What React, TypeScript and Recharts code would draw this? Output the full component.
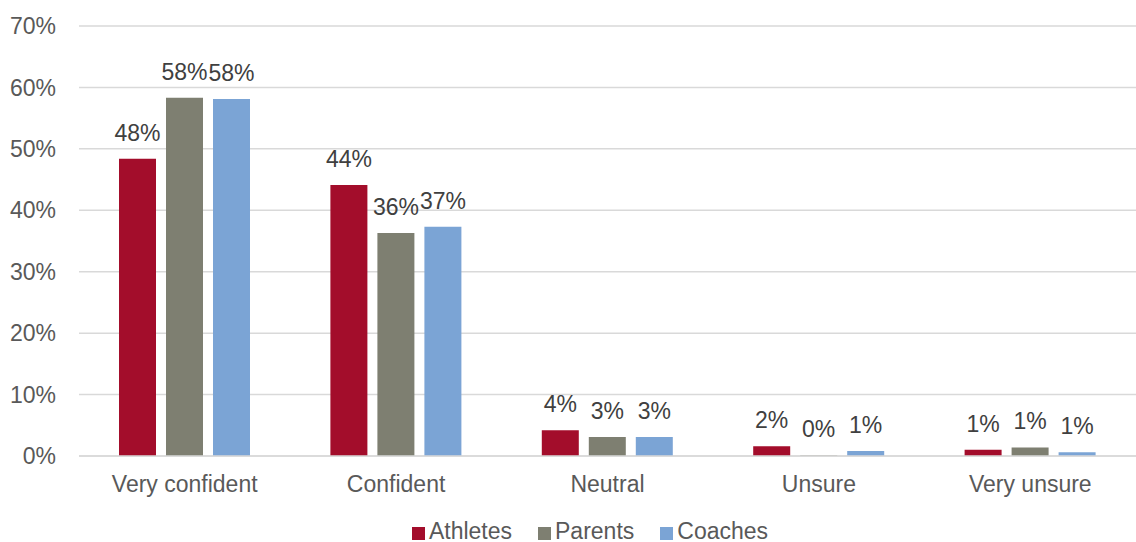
import React from "react";
import {
  BarChart,
  Bar,
  XAxis,
  YAxis,
  CartesianGrid,
  Legend,
  LabelList,
} from "recharts";

const categories = ["Very confident", "Confident", "Neutral", "Unsure", "Very unsure"];
const athletes = [48.4, 44.1, 4.2, 1.6, 1.0];
const parents = [58.3, 36.3, 3.1, 0.1, 1.4];
const coaches = [58.1, 37.3, 3.1, 0.8, 0.6];
const yTicks = [0, 10, 20, 30, 40, 50, 60, 70];

const series = [
  { key: "athletes", label: "Athletes", color: "#A30D2B" },
  { key: "parents", label: "Parents", color: "#7E7F71" },
  { key: "coaches", label: "Coaches", color: "#7BA4D5" },
];

const data = categories.map((name, i) => ({
  name,
  athletes: athletes[i],
  parents: parents[i],
  coaches: coaches[i],
}));

const FONT = "Liberation Sans, Arial, sans-serif";

const LegendContent = () => (
  <div
    style={{
      display: "flex",
      justifyContent: "center",
      fontFamily: FONT,
      fontSize: 23,
      color: "#595959",
      lineHeight: "26px",
      paddingLeft: 70,
    }}
  >
    {series.map((s) => (
      <div key={s.key} style={{ display: "flex", alignItems: "center", marginRight: 26 }}>
        <span
          style={{
            width: 13,
            height: 13,
            background: s.color,
            display: "inline-block",
            marginRight: 4,
            marginTop: 4,
          }}
        />
        <span>{s.label}</span>
      </div>
    ))}
  </div>
);

export default function App() {
  return (
    <div style={{ position: "absolute", left: 0, top: 0, background: "#fff" }}>
      <BarChart
        width={1136}
        height={542}
        data={data}
        margin={{ top: 26, right: 0, left: 0, bottom: 0 }}
        barSize={37}
        barGap={10}
      >
        <CartesianGrid vertical={false} stroke="#d9d9d9" strokeWidth={1.5} />
        <XAxis
          dataKey="name"
          height={86}
          tickLine={false}
          tickSize={0}
          tickMargin={20}
          axisLine={{ stroke: "#d9d9d9", strokeWidth: 1.5 }}
          tick={{ fill: "#595959", fontSize: 23, fontFamily: FONT }}
        />
        <YAxis
          width={79}
          domain={[0, 70]}
          ticks={yTicks}
          tickFormatter={(v) => `${v}%`}
          axisLine={false}
          tickLine={false}
          tickSize={0}
          tickMargin={23}
          tick={{ fill: "#595959", fontSize: 23, fontFamily: FONT }}
        />
        <Legend
          verticalAlign="middle"
          align="center"
          content={<LegendContent />}
          wrapperStyle={{ top: 518, left: 0, width: 1136 }}
        />
        {series.map((s) => (
          <Bar key={s.key} dataKey={s.key} name={s.label} fill={s.color} isAnimationActive={false}>
            <LabelList
              dataKey={s.key}
              position="top"
              offset={18}
              formatter={(v: number) => `${Math.round(v)}%`}
              style={{ fill: "#404040", fontSize: 23, fontFamily: FONT }}
            />
          </Bar>
        ))}
      </BarChart>
    </div>
  );
}
